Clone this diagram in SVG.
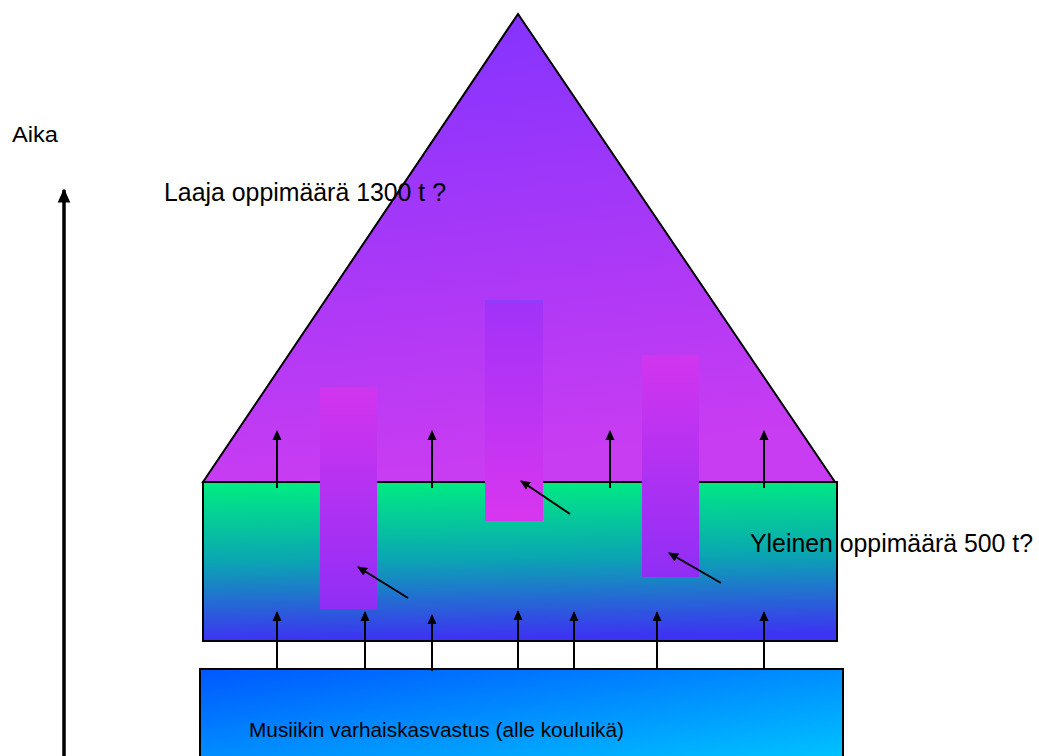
<svg xmlns="http://www.w3.org/2000/svg" width="1039" height="756" viewBox="0 0 1039 756">
<style>
.lbl{font-family:"Liberation Sans",Arial,sans-serif;fill:#000}
.conn line{stroke:#000;stroke-width:2;fill:none}
.edge{stroke:#000;stroke-width:2}
</style>
<defs>
<marker id="ah" viewBox="0 0 10 10" refX="9" refY="5" markerWidth="10" markerHeight="10" markerUnits="userSpaceOnUse" orient="auto">
<path d="M0,0.5 L10,5 L0,9.5 z" fill="#000"/>
</marker>
<marker id="ahBig" viewBox="0 0 10 10" refX="9" refY="5" markerWidth="16" markerHeight="14" markerUnits="userSpaceOnUse" orient="auto">
<path d="M0,0.5 L10,5 L0,9.5 z" fill="#000"/>
</marker>
<linearGradient id="gTri" x1="0" y1="0" x2="0.15" y2="1">
<stop offset="0" stop-color="#8033ff"/>
<stop offset="1" stop-color="#c83cf2"/>
</linearGradient>
<linearGradient id="gGreen" x1="0" y1="0" x2="0.05" y2="1">
<stop offset="0" stop-color="#00ee80"/>
<stop offset="0.5" stop-color="#0aa6b2"/>
<stop offset="1" stop-color="#3d33f2"/>
</linearGradient>
<linearGradient id="gBlue" x1="0" y1="0" x2="1" y2="1">
<stop offset="0" stop-color="#0058ff"/>
<stop offset="1" stop-color="#00c4ff"/>
</linearGradient>
<linearGradient id="gBarDown" x1="0" y1="0" x2="0" y2="1">
<stop offset="0" stop-color="#d335ef"/>
<stop offset="1" stop-color="#902ef5"/>
</linearGradient>
<linearGradient id="gBarUp" x1="0" y1="0" x2="0" y2="1">
<stop offset="0" stop-color="#8a40ff"/>
<stop offset="0.02" stop-color="#a232f8"/>
<stop offset="1" stop-color="#d836ef"/>
</linearGradient>
</defs>

<g id="triangle">
<polygon points="518,14 203,482 835,482" fill="url(#gTri)" class="edge"/>
</g>
<g id="yleinen-box">
<rect x="203" y="482" width="634" height="159" fill="url(#gGreen)" class="edge"/>
</g>
<g id="varhais-box">
<rect x="200" y="669" width="643" height="92" fill="url(#gBlue)" class="edge"/>
<text class="lbl" x="249" y="737" font-size="21" textLength="375" lengthAdjust="spacingAndGlyphs">Musiikin varhaiskasvastus (alle kouluikä)</text>
</g>
<g id="bar1"><rect x="320" y="387" width="57" height="222" fill="url(#gBarDown)"/></g>
<g id="bar2"><rect x="485" y="300" width="58" height="221" fill="url(#gBarUp)"/></g>
<g id="bar3"><rect x="642" y="355" width="57" height="222" fill="url(#gBarDown)"/></g>

<g id="connectors" class="conn">
<line x1="277" y1="488" x2="277" y2="431" marker-end="url(#ah)"/>
<line x1="432" y1="488" x2="432" y2="431" marker-end="url(#ah)"/>
<line x1="610" y1="488" x2="610" y2="431" marker-end="url(#ah)"/>
<line x1="764" y1="488" x2="764" y2="431" marker-end="url(#ah)"/>
<line x1="277" y1="669" x2="277" y2="612" marker-end="url(#ah)"/>
<line x1="365" y1="669" x2="365" y2="612" marker-end="url(#ah)"/>
<line x1="432" y1="671" x2="432" y2="615" marker-end="url(#ah)"/>
<line x1="518" y1="669" x2="518" y2="611" marker-end="url(#ah)"/>
<line x1="574" y1="669" x2="574" y2="612" marker-end="url(#ah)"/>
<line x1="657" y1="669" x2="657" y2="612" marker-end="url(#ah)"/>
<line x1="764" y1="669" x2="764" y2="612" marker-end="url(#ah)"/>
<line x1="408" y1="598" x2="358" y2="567" marker-end="url(#ah)"/>
<line x1="570" y1="514" x2="521" y2="481" marker-end="url(#ah)"/>
<line x1="721" y1="583" x2="669" y2="553" marker-end="url(#ah)"/>
<line x1="64" y1="760" x2="64" y2="190" style="stroke-width:3.5" marker-end="url(#ahBig)"/>
</g>

<g id="labels">
<text class="lbl" x="12" y="142" font-size="22" textLength="46" lengthAdjust="spacingAndGlyphs">Aika</text>
<text class="lbl" x="164" y="201" font-size="25" textLength="282" lengthAdjust="spacingAndGlyphs">Laaja oppimäärä 1300 t ?</text>
<text class="lbl" x="750" y="552" font-size="25" textLength="283" lengthAdjust="spacingAndGlyphs">Yleinen oppimäärä 500 t?</text>
</g>
</svg>
